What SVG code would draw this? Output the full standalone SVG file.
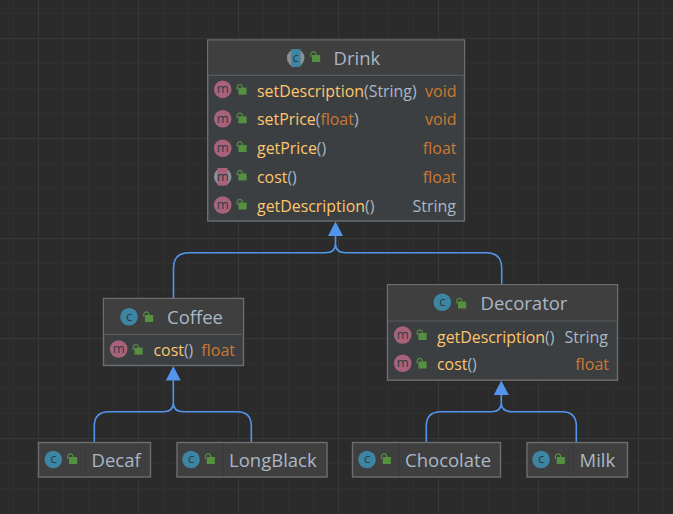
<svg xmlns="http://www.w3.org/2000/svg" width="673" height="514" viewBox="0 0 673 514">
<style>
text{font-family:"Open Sans","Noto Sans","DejaVu Sans",sans-serif}
.box{fill:#3c3f41;stroke:#6e6e6e;stroke-width:1.4}
.sm{fill:#3f3f3f}
.hd{fill:#3f3f3f}
.dv{stroke:#5a5a5a;stroke-width:1.2}
.sp{stroke:#3a3a3a;stroke-width:1}
.t{font-size:18.5px;fill:#a9b7c6}
.f{font-size:15.9px;fill:#ffc66d}
.p{fill:#a9b7c6}
.r{font-size:16px;fill:#cc7832;text-anchor:end}
.s{font-size:16px;fill:#a9b7c6;text-anchor:end}
.cc{fill:#3d86a3}
.mc{fill:#a8637a}
.il{font-size:13px;fill:#2f3b44;text-anchor:middle;font-weight:400}
.lk{fill:#54903f}
.la{fill:none;stroke:#54903f;stroke-width:1.2}
.con{fill:none;stroke:#5394ec;stroke-width:1.6}
.ar{fill:#5394ec}
.gm{stroke:#303030;stroke-width:1}
.gM{stroke:#383838;stroke-width:1}
</style>
<defs>
<g id="lock"><rect class="lk" x="0" y="0" width="8.2" height="7"/><path class="la" d="M-1.2 2V-0.6a2.6 2.6 0 0 1 5.2 0V0"/></g>
<g id="ci"><circle class="cc" r="8.8"/><text class="il" y="3.8">c</text></g>
<g id="mi"><circle class="mc" r="8.8"/><text class="il" y="3.8">m</text></g>
<pattern id="g1" width="25" height="25" patternUnits="userSpaceOnUse" x="13" y="13"><path class="gm" d="M0.5 0V25M0 0.5H25" fill="none"/></pattern>
<pattern id="g2" width="100" height="100" patternUnits="userSpaceOnUse" x="38" y="38"><path class="gM" d="M0.5 0V100M0 0.5H100" fill="none"/></pattern>
</defs>
<rect width="673" height="514" fill="#2b2b2b"/>
<rect width="673" height="514" fill="url(#g1)"/>
<rect width="673" height="514" fill="url(#g2)"/>
<g id="connectors">
<path class="con" d="M173.5 298V268Q173.5 252.7 189 252.7H325Q335.5 252.7 335.5 244V234M501.7 284V268Q501.7 252.7 486 252.7H346Q335.5 252.7 335.5 244"/>
<polygon class="ar" points="335.5,221.5 328,236 343,236"/>
<path class="con" d="M94.3 442V426Q94.3 411.7 109 411.7H163Q173.3 411.7 173.3 403V378M251.3 442V426Q251.3 411.7 237 411.7H184Q173.3 411.7 173.3 403"/>
<polygon class="ar" points="173.3,366 165.8,380.5 180.8,380.5"/>
<path class="con" d="M426.3 442V426Q426.3 411.7 441 411.7H491Q501.3 411.7 501.3 403V393M576.3 442V426Q576.3 411.7 562 411.7H512Q501.3 411.7 501.3 403"/>
<polygon class="ar" points="501.3,380.5 493.8,395 508.8,395"/>
</g>
<g id="drink">
<rect class="box" x="207.7" y="40" width="256.8" height="181"/>
<rect class="hd" x="208.4" y="40.7" width="255.4" height="34.3"/>
<line class="dv" x1="208" y1="75.3" x2="464" y2="75.3"/>
<circle cx="295.7" cy="58" r="8.8" fill="#8a8f93"/><rect class="cc" x="291" y="49.2" width="9.6" height="17.6"/>
<text class="il" x="295.7" y="61.8">c</text>
<use href="#lock" x="312" y="55"/>
<text class="t" x="333.5" y="64.5">Drink</text>
<use href="#mi" x="222.7" y="89.4"/><use href="#lock" x="238.4" y="87.7"/>
<text class="f" x="257" y="96.5">setDescription<tspan class="p">(String)</tspan></text><text class="r" x="456.5" y="96.5">void</text>
<use href="#mi" x="222.7" y="118.7"/><use href="#lock" x="238.4" y="116.3"/>
<text class="f" x="257" y="125">setPrice<tspan class="p">(</tspan><tspan fill="#cc7832">float</tspan><tspan class="p">)</tspan></text><text class="r" x="456.5" y="125">void</text>
<use href="#mi" x="222.7" y="148.3"/><use href="#lock" x="238.4" y="145"/>
<text class="f" x="257" y="154">getPrice<tspan class="p">()</tspan></text><text class="r" x="456.5" y="154">float</text>
<circle cx="222.7" cy="176.7" r="8.8" fill="#8a8f93"/><rect class="mc" x="217.5" y="168" width="10" height="17.4"/>
<text class="il" x="222.7" y="180.5">m</text><use href="#lock" x="238.4" y="173.5"/>
<text class="f" x="257" y="183">cost<tspan class="p">()</tspan></text><text class="r" x="456.5" y="183">float</text>
<use href="#mi" x="222.7" y="205"/><use href="#lock" x="238.4" y="202.5"/>
<text class="f" x="257" y="212">getDescription<tspan class="p">()</tspan></text><text class="s" x="456" y="212">String</text>
</g>
<g id="coffee">
<rect class="box" x="103.5" y="298.5" width="140" height="67"/>
<rect class="hd" x="104.2" y="299.2" width="138.6" height="34.8"/>
<line class="dv" x1="104" y1="334.3" x2="242" y2="334.3"/>
<use href="#ci" x="129" y="316.7"/><use href="#lock" x="145" y="315"/>
<text class="t" x="167" y="323.5">Coffee</text>
<use href="#mi" x="118.7" y="349"/><use href="#lock" x="134.4" y="347.7"/>
<text class="f" x="153.5" y="355.5">cost<tspan class="p">()</tspan></text><text class="r" x="235" y="355.5">float</text>
</g>
<g id="decorator">
<rect class="box" x="387.5" y="284.7" width="230" height="95.5"/>
<rect class="hd" x="388.2" y="285.4" width="228.6" height="35.6"/>
<line class="dv" x1="388" y1="321" x2="616" y2="321"/>
<use href="#ci" x="442.3" y="302.3"/><use href="#lock" x="458" y="301.5"/>
<text class="t" x="480.5" y="309.5">Decorator</text>
<use href="#mi" x="402.7" y="335"/><use href="#lock" x="418.4" y="333"/>
<text class="f" x="437" y="342.5">getDescription<tspan class="p">()</tspan></text><text class="s" x="608" y="342.5">String</text>
<use href="#mi" x="402.7" y="363.3"/><use href="#lock" x="418.4" y="361.5"/>
<text class="f" x="437" y="370">cost<tspan class="p">()</tspan></text><text class="r" x="609" y="370">float</text>
</g>
<g id="decaf">
<rect class="box sm" x="38.5" y="442.5" width="112" height="34.5"/>
<line class="sp" x1="85.5" y1="443" x2="85.5" y2="476.5"/>
<use href="#ci" x="53.3" y="459.5"/><use href="#lock" x="69" y="457"/>
<text class="t" x="91.5" y="467">Decaf</text>
</g>
<g id="longblack">
<rect class="box sm" x="177" y="442.5" width="150" height="34.5"/>
<line class="sp" x1="223.5" y1="443" x2="223.5" y2="476.5"/>
<use href="#ci" x="191" y="459.5"/><use href="#lock" x="206.7" y="457"/>
<text class="t" x="229" y="467">LongBlack</text>
</g>
<g id="chocolate">
<rect class="box sm" x="352.5" y="442.5" width="148" height="34.5"/>
<line class="sp" x1="399.5" y1="443" x2="399.5" y2="476.5"/>
<use href="#ci" x="367" y="459.5"/><use href="#lock" x="382.7" y="457"/>
<text class="t" x="405" y="467">Chocolate</text>
</g>
<g id="milk">
<rect class="box sm" x="527" y="442.5" width="100.5" height="34.5"/>
<line class="sp" x1="573.5" y1="443" x2="573.5" y2="476.5"/>
<use href="#ci" x="541" y="459.5"/><use href="#lock" x="556.7" y="457"/>
<text class="t" x="579.5" y="467">Milk</text>
</g>
</svg>
